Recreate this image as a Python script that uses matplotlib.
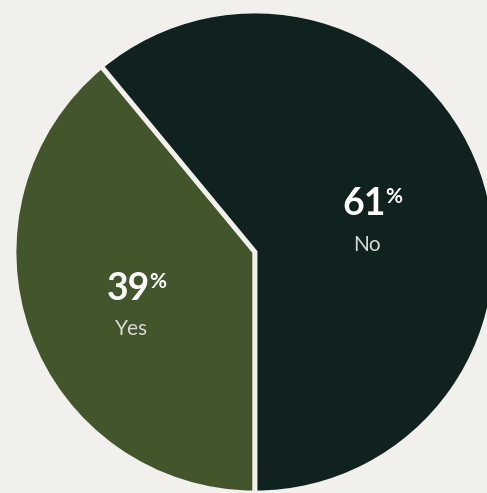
import matplotlib
matplotlib.use("Agg")
import matplotlib.pyplot as plt
import numpy as np

labels = ["Yes", "No"]
shares = [39, 61]
colors = ["#43552b", "#0f2220"]
bg = "#f1f0ec"

plt.rcParams['font.family'] = ['Lato', 'DejaVu Sans']

fig = plt.figure(figsize=(4.87, 4.93), dpi=100, facecolor=bg)
ax = fig.add_axes([14 / 487, 0, 482 / 487, 482 / 493])
ax.set_facecolor(bg)

wedges, _ = ax.pie(shares, colors=colors, startangle=-90, counterclock=False,
                   radius=1,
                   wedgeprops=dict(edgecolor=bg, linewidth=3.5))
ax.set_xlim(-1, 1)
ax.set_ylim(-1, 1)
ax.set_aspect('equal')
ax.axis('off')

# labels inside each wedge
for w, lab, val in zip(wedges, labels, shares):
    mid = np.deg2rad((w.theta1 + w.theta2) / 2)
    r = 0.52
    x, y = r * np.cos(mid), r * np.sin(mid)
    num = ax.annotate(str(val), (x, y), xytext=(-6, -8), textcoords='offset points',
                      ha='center', va='bottom', color='white', fontsize=27,
                      fontweight='bold')
    ax.annotate('%', xy=(1, 1), xycoords=num, xytext=(-1, 0),
                textcoords='offset points', ha='left', va='top',
                color='white', fontsize=15, fontweight='bold')
    ax.annotate(lab, (x, y), xytext=(-4, -18), textcoords='offset points',
                ha='center', va='top', color='#d9d9d5', fontsize=15)

fig.savefig("out.png", dpi=100, facecolor=bg)
